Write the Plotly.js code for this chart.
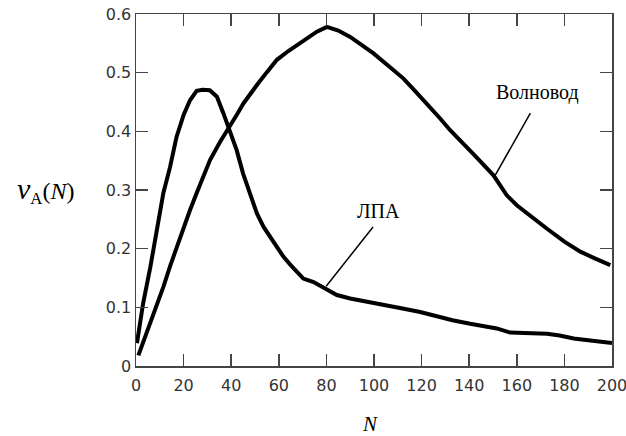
<!DOCTYPE html>
<html>
<head>
<meta charset="utf-8">
<script src="https://cdn.plot.ly/plotly-3.0.1.min.js"></script>
<style>html,body{margin:0;padding:0;background:#fff;}#chart{width:626px;height:436px;}</style>
</head>
<body>
<div id="chart"></div>
<script>
// ЛПА curve
var lpaN = [0.4,3,6,8.7,11.5,14.3,17,20,22.7,25.5,28,31,34,36.7,39.5,42.3,45,48,50.8,53.6,56.4,59.2,62,65,70.3,74.6,79.5,84.4,90,98.4,105.4,112,119.4,126.4,133,140.4,151.6,157.2,165,172.7,178,183.9,190,200];
var lpaV = [0.039,0.107,0.168,0.226,0.295,0.339,0.39,0.428,0.453,0.469,0.471,0.47,0.459,0.431,0.397,0.368,0.328,0.294,0.26,0.237,0.22,0.203,0.186,0.172,0.149,0.143,0.132,0.121,0.115,0.109,0.104,0.098,0.092,0.084,0.078,0.072,0.064,0.057,0.056,0.055,0.052,0.047,0.044,0.039];
// Волновод curve
var wgN = [1,3,5.9,8.7,11.5,14.3,17.1,19.9,22.7,25.5,28.3,31.1,35.3,39.5,42.3,45.2,48,50.8,55,59.2,64,69,72.5,76,80.2,85,90,95,99.8,106,112.4,117,122.2,127.8,132,136.2,143,150.2,155.8,160,164.3,168.5,172.7,180,186.7,193,199.3];
var wgV = [0.018,0.04,0.072,0.104,0.135,0.17,0.203,0.235,0.266,0.295,0.323,0.351,0.382,0.408,0.428,0.448,0.465,0.479,0.501,0.522,0.537,0.55,0.56,0.57,0.578,0.572,0.561,0.547,0.533,0.512,0.49,0.47,0.448,0.422,0.402,0.385,0.356,0.325,0.291,0.274,0.26,0.247,0.234,0.212,0.195,0.183,0.172];

var xTickVals = [0,20,40,60,80,100,120,140,160,180,200];
var xTickText = ["0","20","40","60","80","100","120","140","160","180","200"];
var yTickVals = [0,0.1,0.2,0.3,0.4,0.5,0.6];
var yTickText = ["0","0.1","0.2","0.3","0.4","0.5","0.6"];

var seriesNames = ["ЛПА","Волновод"];

var traces = [
  {x: lpaN, y: lpaV, mode: 'lines', name: seriesNames[0], line: {color: '#000', width: 4}},
  {x: wgN, y: wgV, mode: 'lines', name: seriesNames[1], line: {color: '#000', width: 4}}
];

var axisCommon = {
  showline: true, linecolor: '#444', linewidth: 1.5, mirror: 'ticks',
  ticks: 'inside', ticklen: 12, tickwidth: 1.5, tickcolor: '#444',
  showgrid: false, zeroline: false, ticklabeloverflow: 'allow',
  tickfont: {family: 'DejaVu Sans', size: 16, color: '#333'}
};

var layout = {
  width: 626, height: 436,
  margin: {l: 136, r: 14, t: 14, b: 70},
  paper_bgcolor: '#fff', plot_bgcolor: '#fff',
  showlegend: false,
  xaxis: Object.assign({}, axisCommon, {range: [0, 200.001], tickmode: 'array', tickvals: xTickVals, ticktext: xTickText, ticklabelstandoff: 4}),
  yaxis: Object.assign({}, axisCommon, {range: [0, 0.6001], tickmode: 'array', tickvals: yTickVals, ticktext: yTickText}),
  shapes: [
    {type: 'line', xref: 'x', yref: 'y', x0: 165.7, y0: 0.431, x1: 150.9, y1: 0.325, line: {color: '#000', width: 1.5}},
    {type: 'line', xref: 'x', yref: 'y', x0: 99.6, y0: 0.237, x1: 79.9, y1: 0.136, line: {color: '#000', width: 1.5}}
  ],
  annotations: [
    {x: 168.8, y: 0.467, xref: 'x', yref: 'y', text: seriesNames[1], showarrow: false,
     font: {family: 'Liberation Serif', size: 20, color: '#000'}},
    {x: 101.7, y: 0.2645, xref: 'x', yref: 'y', text: seriesNames[0], showarrow: false,
     font: {family: 'Liberation Serif', size: 20, color: '#000'}},
    {x: -0.191, y: 0.5, xref: 'paper', yref: 'paper', text: '<i><span style="font-size:30px">ν</span></i><sub>A</sub>(<i>N</i>)', showarrow: false,
     xanchor: 'center', font: {family: 'Liberation Serif', size: 24, color: '#000'}},
    {x: 0.4916, y: -0.165, xref: 'paper', yref: 'paper', text: '<i>N</i>', showarrow: false,
     xanchor: 'center', yanchor: 'middle', font: {family: 'Liberation Serif', size: 21, color: '#000'}}
  ]
};

Plotly.newPlot('chart', traces, layout, {displayModeBar: false, staticPlot: true});
</script>
</body>
</html>
